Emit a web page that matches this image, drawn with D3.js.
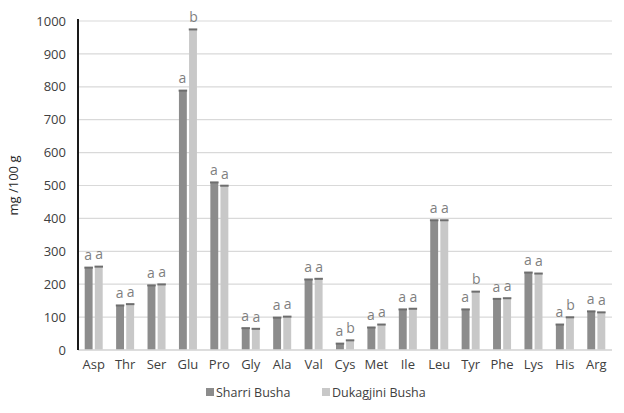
<!DOCTYPE html>
<html>
<head>
<meta charset="utf-8">
<script src="https://cdn.jsdelivr.net/npm/d3@7"></script>
<style>
  body { margin: 0; background: #fff; }
  text { font-family: "Open Sans", "Noto Sans", sans-serif; }
</style>
</head>
<body>
<div class="canvas"></div>
<script>
const categories = ['Asp', 'Thr', 'Ser', 'Glu', 'Pro', 'Gly', 'Ala', 'Val', 'Cys', 'Met', 'Ile', 'Leu', 'Tyr', 'Phe', 'Lys', 'His', 'Arg'];
const sharri = [251, 136, 197, 789, 510, 67, 99, 215, 20, 69, 124, 395, 124, 156, 236, 78, 118];
const dukagjini = [254, 140, 200, 975, 500, 65, 102, 217, 30, 78, 126, 395, 178, 158, 233, 100, 115];
const sharriLetters = ['a', 'a', 'a', 'a', 'a', 'a', 'a', 'a', 'a', 'a', 'a', 'a', 'a', 'a', 'a', 'a', 'a'];
const dukagjiniLetters = ['a', 'a', 'a', 'b', 'a', 'a', 'a', 'a', 'b', 'a', 'a', 'a', 'b', 'a', 'a', 'b', 'a'];
const yTicks = [0, 100, 200, 300, 400, 500, 600, 700, 800, 900, 1000];
const seriesNames = ['Sharri Busha', 'Dukagjini Busha'];

const width = 624, height = 413;
const colors = ['#8c8c8c', '#c8c8c8'];

const svg = d3.select('.canvas')
    .append('svg')
    .attr('width', width)
    .attr('height', height);

const margin = { top: 21, right: 12, bottom: 63, left: 78 };
const graphWidth = width - margin.left - margin.right;
const graphHeight = height - margin.top - margin.bottom;

const graph = svg.append('g')
    .attr('transform', `translate(${margin.left},${margin.top})`);

const y = d3.scaleLinear()
    .domain([0, 1000])
    .range([graphHeight, 0]);

const x = d3.scaleBand()
    .domain(categories)
    .range([0, graphWidth])
    .paddingInner(0)
    .paddingOuter(0);

const x1 = d3.scaleBand()
    .domain([0, 1])
    .range([x.bandwidth() / 2 - 9, x.bandwidth() / 2 + 9])
    .paddingInner(0.22);

// gridlines
graph.append('g')
    .selectAll('line')
    .data(yTicks)
    .enter()
    .append('line')
    .attr('x1', 0)
    .attr('x2', graphWidth)
    .attr('y1', d => y(d))
    .attr('y2', d => y(d))
    .attr('stroke', '#d9d9d9')
    .attr('stroke-width', 1.2);

// y tick labels
const yAxis = d3.axisLeft(y).tickValues(yTicks).tickFormat(d3.format('d')).tickSize(0).tickPadding(12);
const yAxisGroup = graph.append('g').call(yAxis);
yAxisGroup.select('.domain').remove();
yAxisGroup.selectAll('text')
    .attr('fill', '#404040')
    .style('font-size', '13px');

// bars
const data = categories.map((c, i) => ({
    name: c,
    vals: [sharri[i], dukagjini[i]],
    letters: [sharriLetters[i], dukagjiniLetters[i]]
}));

const groups = graph.selectAll('g.cat')
    .data(data)
    .enter()
    .append('g')
    .attr('class', 'cat')
    .attr('transform', d => `translate(${x(d.name)},0)`);

groups.each(function (d) {
    const g = d3.select(this);
    d.vals.forEach((v, s) => {
        const bx = x1(s);
        const bw = x1.bandwidth();
        g.append('rect')
            .attr('x', bx)
            .attr('y', y(v))
            .attr('width', bw)
            .attr('height', graphHeight - y(v))
            .attr('fill', colors[s]);
        // cap
        g.append('rect')
            .attr('x', bx - 0.3)
            .attr('y', y(v) - 0.8)
            .attr('width', bw + 0.6)
            .attr('height', 2)
            .attr('fill', '#6e6e6e');
        g.append('text')
            .attr('x', bx + bw / 2 + (s === 0 ? -0.5 : 0.5))
            .attr('y', y(v) - 7)
            .attr('text-anchor', 'middle')
            .attr('fill', '#7f7f7f')
            .style('font-size', '14px')
            .text(d.letters[s]);
    });
});

// x axis line
graph.append('line')
    .attr('x1', 0)
    .attr('x2', graphWidth)
    .attr('y1', graphHeight)
    .attr('y2', graphHeight)
    .attr('stroke', '#d9d9d9')
    .attr('stroke-width', 1.5);

// x labels
const xAxis = d3.axisBottom(x).tickSize(0).tickPadding(10);
const xAxisGroup = graph.append('g')
    .attr('transform', `translate(0, ${graphHeight})`)
    .call(xAxis);
xAxisGroup.select('.domain').remove();
xAxisGroup.selectAll('text')
    .attr('fill', '#404040')
    .style('font-size', '13px');

// y axis line
graph.append('line')
    .attr('x1', 0)
    .attr('x2', 0)
    .attr('y1', -2)
    .attr('y2', graphHeight)
    .attr('stroke', '#1a1a1a')
    .attr('stroke-width', 2);

// y axis title
svg.append('text')
    .attr('transform', `translate(18, ${margin.top + graphHeight / 2}) rotate(-90)`)
    .attr('text-anchor', 'middle')
    .attr('fill', '#262626')
    .style('font-size', '13px')
    .text('mg /100 g');

// legend
const legendX = [206, 322];
const legend = svg.append('g');
seriesNames.forEach((n, i) => {
    legend.append('rect')
        .attr('x', legendX[i])
        .attr('y', 388)
        .attr('width', 8)
        .attr('height', 8)
        .attr('fill', colors[i]);
    legend.append('text')
        .attr('x', legendX[i] + 10)
        .attr('y', 396.5)
        .attr('fill', '#404040')
        .style('font-size', '12.5px')
        .text(n);
});
</script>
</body>
</html>
